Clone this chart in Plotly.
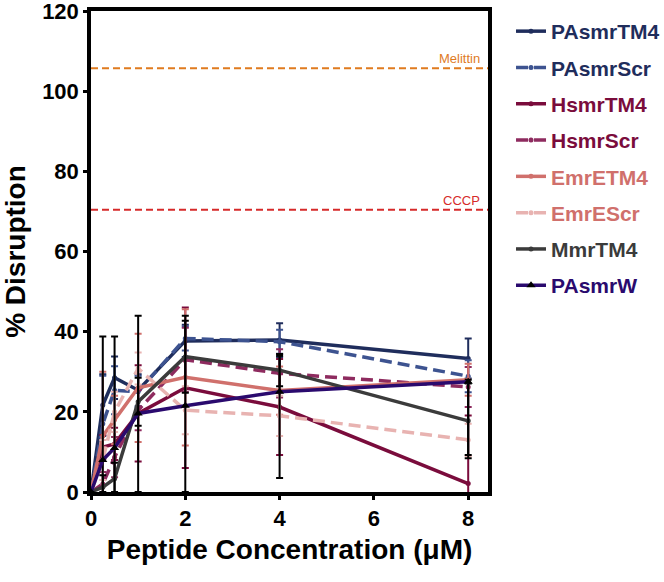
import plotly.graph_objects as go

conc = [0, 0.25, 0.5, 1, 2, 4, 8]

names = ["PAsmrTM4", "PAsmrScr", "HsmrTM4", "HsmrScr", "EmrETM4", "EmrEScr", "MmrTM4", "PAsmrW"]

pasmr_tm4 = [0, 21.7, 28.5, 25.4, 37.7, 37.9, 33.3]
pasmr_scr = [0, 17.0, 25.4, 25.0, 38.3, 37.5, 28.9]
hsmr_tm4 = [0, 11.2, 12.0, 19.6, 26.0, 21.2, 2.1]
hsmr_scr = [0, 2.0, 8.7, 20.4, 33.0, 29.6, 26.2]
emre_tm4 = [0, 14.0, 18.0, 26.0, 28.6, 25.3, 28.0]
emre_scr = [0, 8.0, 20.0, 30.8, 20.4, 19.0, 13.0]
mmr_tm4 = [0, 1.2, 3.3, 22.5, 33.75, 30.4, 17.75]
pasmr_w = [0, 8.0, 11.0, 19.6, 21.5, 25.0, 27.5]

pasmr_tm4_err = [0, 7.7, 5.3, 4, 4, 4.2, 5]
pasmr_scr_err = [0, 12, 6, 4, 3, 3, 4]
hsmr_tm4_err = [0, 3, 4, 12, 20, 12, 17]
hsmr_scr_err = [0, 3, 5, 5, 8, 6, 5]
emre_tm4_err = [0, 16, 6, 13.5, 17, 6, 4]
emre_scr_err = [0, 5, 5, 4, 6, 5, 4]
mmr_tm4_err = [0, 3, 4, 6, 9, 4, 9.3]
pasmr_w_err_plus = [0, 30.8, 27.8, 24.4, 22.5, 9, 0.5]
pasmr_w_err_minus = [0, 8, 11, 19.6, 21.5, 21.5, 18.3]

x_ticks = [0, 2, 4, 6, 8]
y_ticks = [0, 20, 40, 60, 80, 100, 120]
x_range = [0, 8.42]
y_range = [0, 120]

melittin_level = 105.7
cccp_level = 70.4

series = [
    (pasmr_tm4, pasmr_tm4_err, None, "#1f2d5c", "#1f2d5c", "solid", "#1f2d5c", "circle"),
    (pasmr_scr, pasmr_scr_err, None, "#3d5390", "#1f2d5c", "12px,6px", "#3d5390", "circle"),
    (hsmr_tm4, hsmr_tm4_err, None, "#7a0c3c", "#7a0c3c", "solid", "#7a0c3c", "circle"),
    (hsmr_scr, hsmr_scr_err, None, "#8e2b5f", "#7a0c3c", "12px,6px", "#8e2b5f", "circle"),
    (emre_tm4, emre_tm4_err, None, "#d0706c", "#d0706c", "solid", "#d0706c", "circle"),
    (emre_scr, emre_scr_err, None, "#e8b3b1", "#d0706c", "12px,6px", "#e8b3b1", "circle"),
    (mmr_tm4, mmr_tm4_err, None, "#3b3b3b", "#3b3b3b", "solid", "#000000", "circle"),
    (pasmr_w, pasmr_w_err_plus, pasmr_w_err_minus, "#2a0a6e", "#2a0a6e", "solid", "#000000", "triangle-up"),
]

fig = go.Figure()
for i, (vals, ep, em, lc, tc, dash, ec, sym) in enumerate(series):
    err = dict(type="data", array=ep, visible=True, color=ec, thickness=2, width=3.5)
    if em is not None:
        err["symmetric"] = False
        err["arrayminus"] = em
    fig.add_trace(go.Scatter(
        x=conc, y=vals, mode="lines+markers",
        name=f"<span style='color:{tc}'><b>{names[i]}</b></span>",
        line=dict(color=lc, width=3.5, dash=dash),
        marker=dict(color=(lc if sym == "circle" else "#000000"), size=(5 if sym == "circle" else 8), symbol=sym),
        error_y=err,
        legendgroup=names[i],
    ))

fig.add_shape(type="line", xref="paper", x0=0, x1=1, yref="y", y0=melittin_level, y1=melittin_level,
              line=dict(color="#e07b1f", width=2, dash="7px,4px"))
fig.add_shape(type="line", xref="paper", x0=0, x1=1, yref="y", y0=cccp_level, y1=cccp_level,
              line=dict(color="#d62a2a", width=2, dash="7px,4px"))
fig.add_annotation(text="Melittin", xref="paper", x=0.985, xanchor="right", yref="y", y=melittin_level,
                   yanchor="bottom", showarrow=False, font=dict(color="#e07b1f", size=13, family="Liberation Sans"))
fig.add_annotation(text="CCCP", xref="paper", x=0.985, xanchor="right", yref="y", y=cccp_level,
                   yanchor="bottom", showarrow=False, font=dict(color="#d62a2a", size=13, family="Liberation Sans"))

fig.update_layout(
    width=664, height=582,
    margin=dict(l=91, r=176, t=11, b=90, autoexpand=False),
    plot_bgcolor="white", paper_bgcolor="white",
    font=dict(family="Liberation Sans", color="black"),
    showlegend=True,
    legend=dict(x=1.058, xanchor="left", y=1.0, yanchor="top", traceorder="grouped",
                tracegroupgap=6, font=dict(size=21, family="Liberation Sans"),
                bgcolor="rgba(0,0,0,0)"),
    xaxis=dict(range=x_range, tickvals=x_ticks, showgrid=False, zeroline=False,
               showline=True, linecolor="black", linewidth=3.5, mirror=True, automargin=False,
               ticks="outside", ticklen=4, tickwidth=3, tickcolor="black", ticklabeloverflow="allow",
               tickfont=dict(size=22, family="Liberation Sans", weight="bold"),
               title=dict(text="<b>Peptide Concentration (μM)</b>", font=dict(size=28, family="Liberation Sans"), standoff=10)),
    yaxis=dict(range=y_range, tickvals=y_ticks, showgrid=False, zeroline=False,
               showline=True, linecolor="black", linewidth=3.5, mirror=True, automargin=False,
               ticks="outside", ticklen=4, tickwidth=3, tickcolor="black", ticklabeloverflow="allow",
               tickfont=dict(size=22, family="Liberation Sans", weight="bold"),
               title=dict(text="<b>% Disruption</b>", font=dict(size=28, family="Liberation Sans"), standoff=18)),
    xaxis2=dict(range=x_range, tickvals=x_ticks, overlaying="x", anchor="y", side="bottom",
                showgrid=False, zeroline=False, showline=False, showticklabels=False, automargin=False,
                ticks="outside", ticklen=8, tickwidth=3, tickcolor="black"),
    yaxis2=dict(range=y_range, tickvals=y_ticks, overlaying="y", anchor="x", side="left",
                showgrid=False, zeroline=False, showline=False, showticklabels=False, automargin=False,
                ticks="outside", ticklen=8, tickwidth=3, tickcolor="black"),
)

fig.write_html("out.html", config={"displayModeBar": False},
               post_script="document.body.style.margin='0';document.body.style.padding='0';")
